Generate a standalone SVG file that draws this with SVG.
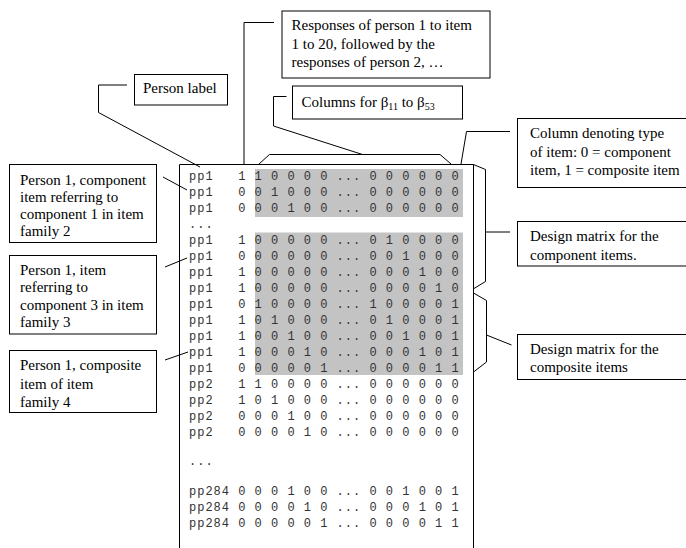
<svg xmlns="http://www.w3.org/2000/svg" width="686" height="548" viewBox="0 0 686 548">
<style>
.box{fill:#fff;stroke:#000;stroke-width:1}
.lbl{font-family:"Liberation Serif","Times New Roman",serif;font-size:15px;fill:#000}
.sub{font-size:10px}
.mono{font-family:"Liberation Mono","Courier New",monospace;font-size:12px;letter-spacing:1px;fill:#333;white-space:pre}
.ln{fill:none;stroke:#000;stroke-width:1}
.shade{fill:#c3c3c3}
</style>
<rect width="686" height="548" fill="#fff"/>
<g id="matrix">
<rect class="shade" x="255" y="169" width="208" height="48"/>
<rect class="shade" x="255" y="232.5" width="208" height="142.5"/>
<path class="ln" d="M179.5,548 V164.5 H473.5 V548"/>
<g xml:space="preserve">
<text class="mono" x="189" y="180">pp1   1 1 0 0 0 0 ... 0 0 0 0 0 0</text>
<text class="mono" x="189" y="196">pp1   0 0 1 0 0 0 ... 0 0 0 0 0 0</text>
<text class="mono" x="189" y="212">pp1   0 0 0 1 0 0 ... 0 0 0 0 0 0</text>
<text class="mono" x="189" y="228">...</text>
<text class="mono" x="189" y="244">pp1   1 0 0 0 0 0 ... 0 1 0 0 0 0</text>
<text class="mono" x="189" y="260">pp1   0 0 0 0 0 0 ... 0 0 1 0 0 0</text>
<text class="mono" x="189" y="276">pp1   1 0 0 0 0 0 ... 0 0 0 1 0 0</text>
<text class="mono" x="189" y="292">pp1   1 0 0 0 0 0 ... 0 0 0 0 1 0</text>
<text class="mono" x="189" y="308">pp1   0 1 0 0 0 0 ... 1 0 0 0 0 1</text>
<text class="mono" x="189" y="324">pp1   1 0 1 0 0 0 ... 0 1 0 0 0 1</text>
<text class="mono" x="189" y="340">pp1   1 0 0 1 0 0 ... 0 0 1 0 0 1</text>
<text class="mono" x="189" y="356">pp1   1 0 0 0 1 0 ... 0 0 0 1 0 1</text>
<text class="mono" x="189" y="372">pp1   0 0 0 0 0 1 ... 0 0 0 0 1 1</text>
<text class="mono" x="189" y="388">pp2   1 1 0 0 0 0 ... 0 0 0 0 0 0</text>
<text class="mono" x="189" y="404">pp2   1 0 1 0 0 0 ... 0 0 0 0 0 0</text>
<text class="mono" x="189" y="420">pp2   0 0 0 1 0 0 ... 0 0 0 0 0 0</text>
<text class="mono" x="189" y="436">pp2   0 0 0 0 1 0 ... 0 0 0 0 0 0</text>
<text class="mono" x="189" y="465">...</text>
<text class="mono" x="189" y="495">pp284 0 0 0 1 0 0 ... 0 0 1 0 0 1</text>
<text class="mono" x="189" y="511">pp284 0 0 0 0 1 0 ... 0 0 0 1 0 1</text>
<text class="mono" x="189" y="527">pp284 0 0 0 0 0 1 ... 0 0 0 0 1 1</text>
</g>
</g>
<g id="connectors">
<polyline class="ln" points="127,85 98.5,85 98.5,112.5 200,167"/>
<polyline class="ln" points="274,22.5 244,22.5 244,164"/>
<polyline class="ln" points="259,164 269.5,154.5 440,154.5 451,164"/>
<polyline class="ln" points="286.5,96.5 273.5,96.5 273.5,126 362.5,154.5"/>
<polyline class="ln" points="510,131.5 466.5,131.5 461,164"/>
<polyline class="ln" points="473.5,164.5 485.5,169.5 485.5,281.5 474,288.5"/>
<line class="ln" x1="485.5" y1="232" x2="510" y2="232"/>
<polyline class="ln" points="473.5,293 486.5,300.5 486.5,362 473.5,372"/>
<line class="ln" x1="486.5" y1="335" x2="511.5" y2="345"/>
<line class="ln" x1="163" y1="177" x2="187" y2="190"/>
<line class="ln" x1="165" y1="267" x2="187" y2="258"/>
<line class="ln" x1="165" y1="360" x2="188" y2="352"/>
</g>
<g id="person-label">
<rect class="box" x="134.5" y="74.5" width="93" height="30.5"/>
<text class="lbl" x="143" y="93">Person label</text>
</g>
<g id="responses">
<rect class="box" x="282" y="11" width="208" height="67"/>
<text class="lbl" x="291.5" y="30">Responses of person 1 to item</text>
<text class="lbl" x="291.5" y="48.5">1 to 20, followed by the</text>
<text class="lbl" x="291.5" y="67">responses of person 2, …</text>
</g>
<g id="columns-beta">
<rect class="box" x="292.5" y="86" width="170" height="33"/>
<text class="lbl" x="301.5" y="106.5">Columns for β<tspan class="sub" dy="3">11</tspan><tspan dy="-3"> to β</tspan><tspan class="sub" dy="3">53</tspan></text>
</g>
<g id="column-type">
<rect class="box" x="517.5" y="118.5" width="175" height="69"/>
<text class="lbl" x="530" y="138">Column denoting type</text>
<text class="lbl" x="530" y="156.5">of item: 0 = component</text>
<text class="lbl" x="530" y="175">item, 1 = composite item</text>
</g>
<g id="component-matrix">
<rect class="box" x="517.5" y="221.5" width="175" height="44.5"/>
<text class="lbl" x="530" y="241">Design matrix for the</text>
<text class="lbl" x="530" y="259.5">component items.</text>
</g>
<g id="composite-matrix">
<rect class="box" x="517.5" y="334.5" width="175" height="45"/>
<text class="lbl" x="530" y="353.5">Design matrix for the</text>
<text class="lbl" x="530" y="372">composite items</text>
</g>
<g id="person1-component">
<rect class="box" x="9.5" y="164.5" width="147" height="78"/>
<text class="lbl" x="20" y="185">Person 1, component</text>
<text class="lbl" x="20" y="202">item referring to</text>
<text class="lbl" x="20" y="219">component 1 in item</text>
<text class="lbl" x="20" y="236">family 2</text>
</g>
<g id="person1-item">
<rect class="box" x="9.5" y="255.5" width="147" height="78.5"/>
<text class="lbl" x="20" y="275">Person 1, item</text>
<text class="lbl" x="20" y="292">referring to</text>
<text class="lbl" x="20" y="309.5">component 3 in item</text>
<text class="lbl" x="20" y="326.5">family 3</text>
</g>
<g id="person1-composite">
<rect class="box" x="9.5" y="350.5" width="147" height="62"/>
<text class="lbl" x="20" y="370">Person 1, composite</text>
<text class="lbl" x="20" y="388.5">item of item</text>
<text class="lbl" x="20" y="407">family 4</text>
</g>
</svg>
